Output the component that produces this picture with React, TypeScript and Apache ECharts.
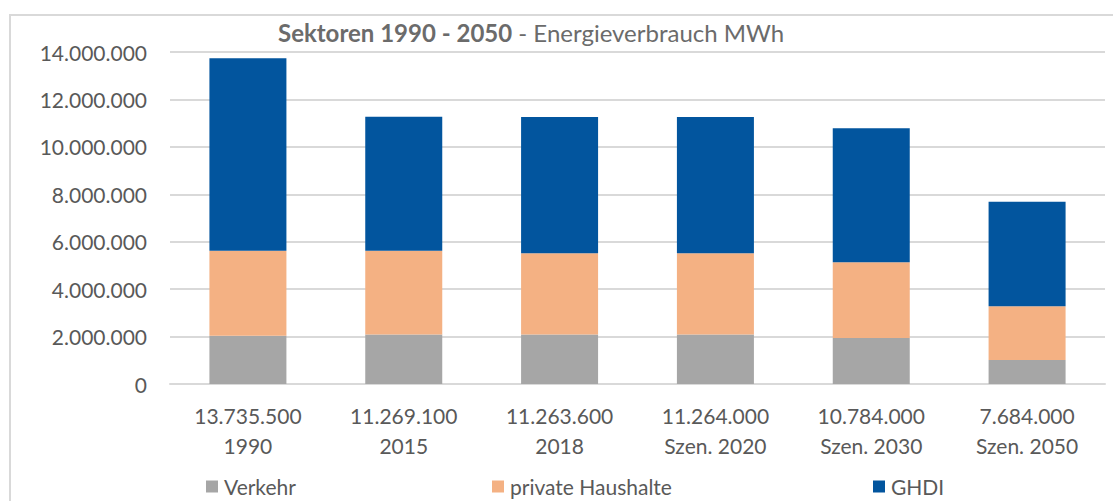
import React, { useEffect, useRef } from "react";
import * as echarts from "echarts";

const categories = ["1990", "2015", "2018", "Szen. 2020", "Szen. 2030", "Szen. 2050"];
const totals = [13735500, 11269100, 11263600, 11264000, 10784000, 7684000];
const verkehr = [2030000, 2090000, 2090000, 2090000, 1940000, 1010000];
const haushalte = [3590000, 3530000, 3420000, 3420000, 3190000, 2270000];
const ghdi = [8115500, 5649100, 5753600, 5754000, 5654000, 4404000];
const seriesNames = ["Verkehr", "private Haushalte", "GHDI"];
const colors = ["#A6A6A6", "#F4B183", "#02559E"];

const FONT = "Lato";
const TXT = "#595959";

function fmt(n: number): string {
  const s = Math.round(n).toString();
  return s.replace(/\B(?=(\d{3})+(?!\d))/g, ".");
}

export default function App() {
  const ref = useRef<HTMLDivElement>(null);
  useEffect(() => {
    if (!ref.current) return;
    const chart = echarts.init(ref.current, undefined, { renderer: "svg" });
    const labels = categories.map((c, i) => `${fmt(totals[i])}\n${c}`);
    const data = [verkehr, haushalte, ghdi];
    const legendLeft = [206, 492, 873];
    chart.setOption({
      animation: false,
      backgroundColor: "#ffffff",
      textStyle: { fontFamily: FONT },
      title: {
        left: 278,
        top: 20,
        padding: [0, 0, 0, 0],
        text: "{b|Sektoren 1990 - 2050}{n| - Energieverbrauch MWh}",
        textStyle: {
          rich: {
            b: { fontFamily: FONT, fontSize: 24, fontWeight: "bold", color: "#6b6b6b" },
            n: { fontFamily: FONT, fontSize: 24, fontWeight: "normal", color: "#6b6b6b" },
          },
        },
      },
      graphic: [
        {
          type: "rect",
          shape: { x: 10, y: 15, width: 1200, height: 600 },
          style: { fill: "none", stroke: "#D9D9D9", lineWidth: 2 },
          silent: true,
        },
      ],
      legend: seriesNames.map((name, i) => ({
        left: legendLeft[i],
        top: 474,
        padding: [2, 5, 2, 0],
        data: [name],
        icon: "rect",
        itemWidth: 12,
        itemHeight: 12,
        itemGap: 0,
        textStyle: { fontFamily: FONT, fontSize: 21, color: TXT, padding: [0, 0, 0, 1] },
      })),
      grid: { left: 170, right: 8, top: 52, bottom: 117, containLabel: false },
      xAxis: {
        type: "category",
        data: labels,
        axisLine: { lineStyle: { color: "#D9D9D9", width: 2 } },
        axisTick: { show: false },
        axisLabel: {
          fontFamily: FONT,
          fontSize: 21,
          color: TXT,
          lineHeight: 30,
          margin: 16,
          interval: 0,
        },
      },
      yAxis: {
        type: "value",
        min: 0,
        max: 14000000,
        interval: 2000000,
        axisLine: { show: false },
        axisTick: { show: false },
        splitLine: { lineStyle: { color: "#D9D9D9", width: 2 } },
        axisLabel: {
          fontFamily: FONT,
          fontSize: 21,
          color: TXT,
          margin: 23,
          formatter: (v: number) => fmt(v),
        },
      },
      series: seriesNames.map((name, i) => ({
        name,
        type: "bar",
        stack: "total",
        barWidth: 77,
        data: data[i],
        itemStyle: { color: colors[i] },
      })),
    });
    return () => chart.dispose();
  }, []);
  return (
    <div
      ref={ref}
      style={{ position: "absolute", left: 0, top: 0, width: 1113, height: 501 }}
    />
  );
}
